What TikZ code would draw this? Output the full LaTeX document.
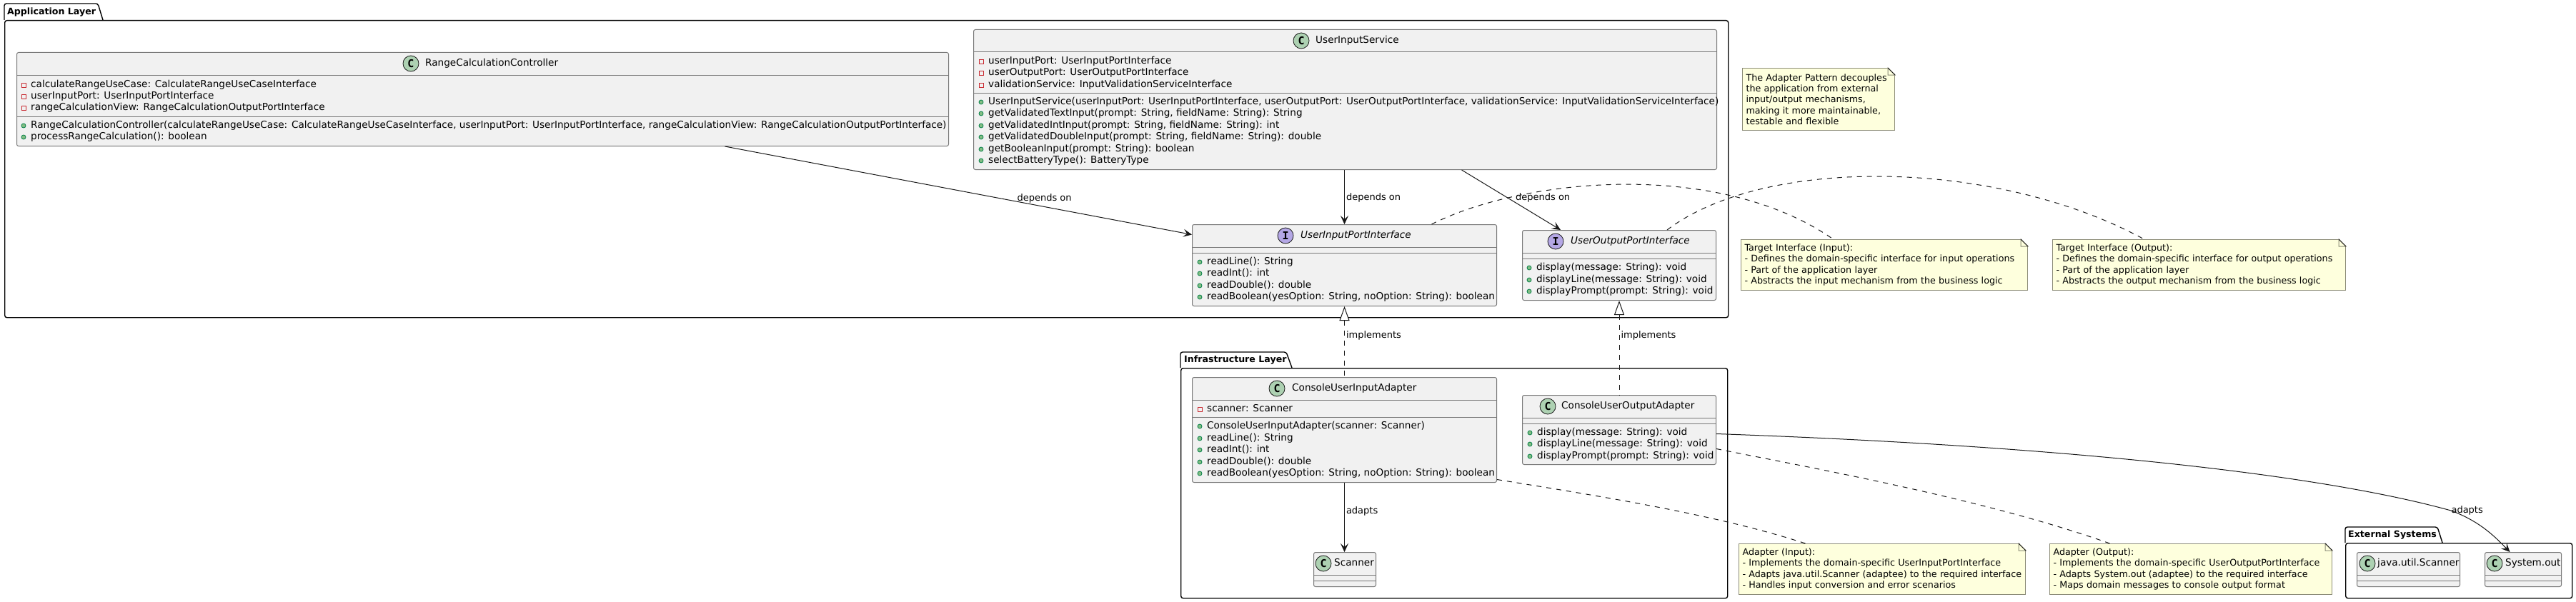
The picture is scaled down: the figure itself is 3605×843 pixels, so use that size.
\documentclass[tikz,border=0pt]{standalone}
\usepackage{fontspec}
\setmainfont{DejaVu Sans}
\setmonofont{DejaVu Sans Mono}
\usepackage{xcolor}
\usetikzlibrary{arrows.meta}
\definecolor{umlline}{RGB}{24, 24, 24}
\definecolor{umlborder}{RGB}{120, 120, 120}
\definecolor{umlfill}{RGB}{241, 241, 241}
\definecolor{umlgreen}{RGB}{173, 209, 178}
\definecolor{umlpurple}{RGB}{180, 167, 229}
\definecolor{notefill}{RGB}{254, 255, 221}
\definecolor{noteborder}{RGB}{140, 140, 120}
\definecolor{privred}{RGB}{200, 41, 48}
\definecolor{pubgreen}{RGB}{132, 190, 132}
\definecolor{pubedge}{RGB}{3, 128, 72}

\tikzset{
  pkgbox/.style={draw=black, line width=1.4pt, rounded corners=3pt, anchor=north west, inner sep=0pt},
  pkgtab/.style={draw=black, line width=1.4pt, rounded corners=3pt},
  pkgtitle/.style={anchor=west, inner sep=0pt, text height=10.5pt, text depth=3pt, font=\fontsize{12.6}{16}\selectfont\bfseries},
  classbox/.style={draw=umlborder, fill=umlfill, line width=1pt, rounded corners=2.5pt, anchor=north west, inner sep=0pt},
  classsep/.style={draw=umlborder, line width=1pt},
  classmark/.style={circle, draw=umlline, line width=0.8pt, minimum size=22pt, inner sep=0pt, font=\fontsize{15}{16}\selectfont\ttfamily\bfseries},
  classtitle/.style={anchor=west, inner sep=0pt, text height=10.5pt, text depth=3pt, font=\fontsize{13.6}{16}\selectfont},
  member/.style={anchor=west, inner sep=0pt, text height=10.5pt, text depth=3pt, font=\fontsize{13.6}{16}\selectfont},
  privicon/.style={rectangle, draw=privred, line width=0.8pt, minimum size=6pt, inner sep=0pt},
  pubicon/.style={circle, draw=pubedge, fill=pubgreen, line width=0.8pt, minimum size=6pt, inner sep=0pt},
  notebox/.style={draw=noteborder, fill=notefill, line width=1pt, anchor=north west, align=left, inner xsep=5pt, inner ysep=0pt, font=\fontsize{12.7}{15.3}\selectfont},
  edgelabel/.style={anchor=west, inner sep=0pt, text height=9.5pt, text depth=3pt, font=\fontsize{13}{15}\selectfont},
  dependedge/.style={draw=umlline, line width=1pt, -{Stealth[length=12pt, width=11pt, inset=5pt]}},
  implementedge/.style={draw=umlline, line width=1pt, dash pattern=on 7pt off 7pt, {Triangle[open, length=20pt, width=14pt, fill=white]}-},
  noteedge/.style={draw=umlline, line width=1pt, dash pattern=on 7pt off 7pt},
}

% member rows of a class: name prefix, icon x, icon style, {y/text, ...}
\newcommand{\memberrows}[4]{%
  \foreach \y/\txt [count=\i] in {#4} {
    \node[#3] (#1icon\i) at (#2,\y) {};
    \node[member] (#1text\i) at ({#2+10},\y) {\txt};
  }%
}

\begin{document}
\begin{tikzpicture}[x=1pt, y=-1pt]
\useasboundingbox (0,0) rectangle (3605,843);

% Packages
\node[pkgbox, minimum width=2412pt, minimum height=416pt] (app) at (6,28) {};
\node[pkgbox, minimum width=765pt, minimum height=322pt] (infra) at (1652,515) {};
\node[pkgbox, minimum width=317pt, minimum height=77pt] (ext) at (3282,760) {};
\draw[pkgtab] (app.north west) -- ++(0,-23) -- ++(131,0) -- ++(7,23);
\draw[pkgtab] (infra.north west) -- ++(0,-22) -- ++(148,0) -- ++(8,22);
\draw[pkgtab] (ext.north west) -- ++(0,-22) -- ++(129,0) -- ++(7,22);
\node[pkgtitle] (apptitle) at (10,17) {Application Layer};
\node[pkgtitle] (infratitle) at (1657,504) {Infrastructure Layer};
\node[pkgtitle] (exttitle) at (3286,749) {External Systems};

% Classes
\node[classbox, minimum width=1304pt, minimum height=131pt] (ctrl) at (23,73) {};
\node[classbox, minimum width=1040pt, minimum height=196pt] (svc) at (1362,41) {};
\node[classbox, minimum width=426pt, minimum height=114pt] (uip) at (1668,314) {};
\node[classbox, minimum width=271pt, minimum height=98pt] (uop) at (2130,322) {};
\node[classbox, minimum width=426pt, minimum height=147pt] (uia) at (1668,528) {};
\node[classbox, minimum width=271pt, minimum height=97pt] (uoa) at (2130,553) {};
\node[classbox, minimum width=87pt, minimum height=48pt] (scan) at (1838,773) {};
\node[classbox, minimum width=144pt, minimum height=48pt] (jscan) at (3298,773) {};
\node[classbox, minimum width=107pt, minimum height=48pt] (sysout) at (3477,773) {};

% Compartment lines
\foreach \cls/\a/\b in {ctrl/32/90, svc/32/89, uip/32/40, uop/32/40, uia/32/56, uoa/32/40, scan/32/40, jscan/32/40, sysout/32/40} {
  \draw[classsep] ([yshift=-\a pt]\cls.north west) -- ([yshift=-\a pt]\cls.north east);
  \draw[classsep] ([yshift=-\b pt]\cls.north west) -- ([yshift=-\b pt]\cls.north east);
}

% Class headers
\node[classmark, fill=umlgreen] (ctrlmark) at (575,89) {C};
\node[classtitle] (ctrltitle) at (595,89) {RangeCalculationController};
\node[classmark, fill=umlgreen] (svcmark) at (1821,57) {C};
\node[classtitle] (svctitle) at (1841,57) {UserInputService};
\node[classmark, fill=umlpurple] (uipmark) at (1799,330) {I};
\node[classtitle, font=\fontsize{13.6}{16}\selectfont\itshape] (uiptitle) at (1820,330) {UserInputPortInterface};
\node[classmark, fill=umlpurple] (uopmark) at (2177,338) {I};
\node[classtitle, font=\fontsize{13.6}{16}\selectfont\itshape] (uoptitle) at (2198,338) {UserOutputPortInterface};
\node[classmark, fill=umlgreen] (uiamark) at (1787,544) {C};
\node[classtitle] (uiatitle) at (1808,544) {ConsoleUserInputAdapter};
\node[classmark, fill=umlgreen] (uoamark) at (2166,569) {C};
\node[classtitle] (uoatitle) at (2185,569) {ConsoleUserOutputAdapter};
\node[classmark, fill=umlgreen] (scanmark) at (1852,789) {C};
\node[classtitle] (scantitle) at (1867,789) {Scanner};
\node[classmark, fill=umlgreen] (jscanmark) at (3313,789) {C};
\node[classtitle] (jscantitle) at (3327,789) {java.util.Scanner};
\node[classmark, fill=umlgreen] (sysoutmark) at (3491,789) {C};
\node[classtitle] (sysouttitle) at (3506,789) {System.out};

% Fields and methods
\memberrows{ctrlf}{33}{privicon}{119/{calculateRangeUseCase: CalculateRangeUseCaseInterface}, 135/{userInputPort: UserInputPortInterface}, 151/{rangeCalculationView: RangeCalculationOutputPortInterface}}
\memberrows{ctrlm}{33}{pubicon}{176/{RangeCalculationController(calculateRangeUseCase: CalculateRangeUseCaseInterface, userInputPort: UserInputPortInterface, rangeCalculationView: RangeCalculationOutputPortInterface)}, 192/{processRangeCalculation(): boolean}}
\memberrows{svcf}{1373}{privicon}{86/{userInputPort: UserInputPortInterface}, 102/{userOutputPort: UserOutputPortInterface}, 119/{validationService: InputValidationServiceInterface}}
\memberrows{svcm}{1373}{pubicon}{143/{UserInputService(userInputPort: UserInputPortInterface, userOutputPort: UserOutputPortInterface, validationService: InputValidationServiceInterface)}, 159/{getValidatedTextInput(prompt: String, fieldName: String): String}, 176/{getValidatedIntInput(prompt: String, fieldName: String): int}, 192/{getValidatedDoubleInput(prompt: String, fieldName: String): double}, 209/{getBooleanInput(prompt: String): boolean}, 225/{selectBatteryType(): BatteryType}}
\memberrows{uipm}{1679}{pubicon}{367/{readLine(): String}, 383/{readInt(): int}, 400/{readDouble(): double}, 416/{readBoolean(yesOption: String, noOption: String): boolean}}
\memberrows{uopm}{2140}{pubicon}{375/{display(message: String): void}, 392/{displayLine(message: String): void}, 408/{displayPrompt(prompt: String): void}}
\memberrows{uiaf}{1679}{privicon}{573/{scanner: Scanner}}
\memberrows{uiam}{1679}{pubicon}{597/{ConsoleUserInputAdapter(scanner: Scanner)}, 614/{readLine(): String}, 630/{readInt(): int}, 647/{readDouble(): double}, 663/{readBoolean(yesOption: String, noOption: String): boolean}}
\memberrows{uoam}{2141}{pubicon}{606/{display(message: String): void}, 622/{displayLine(message: String): void}, 639/{displayPrompt(prompt: String): void}}

% Notes
\node[notebox, minimum width=213pt, minimum height=87pt, text width=203pt] (notepattern) at (2438,95) {The Adapter Pattern decouples\\the application from external\\input/output mechanisms,\\making it more maintainable,\\testable and flexible};
\node[notebox, minimum width=401pt, minimum height=71pt, text width=391pt] (notetargetin) at (2436,335) {Target Interface (Input):\\- Defines the domain-specific interface for input operations\\- Part of the application layer\\- Abstracts the input mechanism from the business logic};
\node[notebox, minimum width=410pt, minimum height=71pt, text width=400pt] (notetargetout) at (2872,335) {Target Interface (Output):\\- Defines the domain-specific interface for output operations\\- Part of the application layer\\- Abstracts the output mechanism from the business logic};
\node[notebox, minimum width=401pt, minimum height=71pt, text width=391pt] (noteadaptin) at (2433,761) {Adapter (Input):\\- Implements the domain-specific UserInputPortInterface\\- Adapts java.util.Scanner (adaptee) to the required interface\\- Handles input conversion and error scenarios};
\node[notebox, minimum width=395pt, minimum height=71pt, text width=385pt] (noteadaptout) at (2868,761) {Adapter (Output):\\- Implements the domain-specific UserOutputPortInterface\\- Adapts System.out (adaptee) to the required interface\\- Maps domain messages to console output format};

% Folded note corners
\foreach \n in {notepattern, notetargetin, notetargetout, noteadaptin, noteadaptout} {
  \fill[white] ([xshift=-10pt, yshift=1pt]\n.north east) -- ([xshift=1pt, yshift=1pt]\n.north east) -- ([xshift=1pt, yshift=-10pt]\n.north east) -- cycle;
  \draw[draw=noteborder, fill=notefill, line width=1pt] ([xshift=-10pt]\n.north east) -- ([yshift=-10pt]\n.north east) -- ([xshift=-10pt, yshift=-10pt]\n.north east) -- cycle;
  \draw[draw=umlline, line width=0.8pt] ([xshift=-10pt]\n.north east) -- ([yshift=-10pt]\n.north east);
}

% Dependencies
\draw[dependedge] ([xshift=339pt]ctrl.south) -- ([yshift=43pt]uip.west) node[edgelabel, pos=0.59, xshift=23pt] (lbldepa) {depends on};
\draw[dependedge] (svc.south -| uip.north) -- (uip.north) node[edgelabel, pos=0.52, xshift=2pt] (lbldepb) {depends on};
\draw[dependedge] ([xshift=163pt]svc.south) -- ([xshift=-82pt]uop.north) node[edgelabel, pos=0.47, xshift=10pt] (lbldepc) {depends on};

% Realisations
\draw[implementedge] (uip.south) -- (uia.north) node[edgelabel, pos=0.42, xshift=2pt] (lblimpa) {implements};
\draw[implementedge] (uop.south) -- (uoa.north) node[edgelabel, pos=0.376, xshift=2pt] (lblimpb) {implements};

% Adaptees
\draw[dependedge] (uia.south) -- (scan.north -| uia.south) node[edgelabel, pos=0.41, xshift=2pt] (lbladapta) {adapts};
\draw[dependedge] ([yshift=-5.5pt]uoa.east) .. controls (2900,625) and (3250,665) .. (3430,715) node[edgelabel] (lbladaptb) {adapts} .. controls (3470,730) and (3490,750) .. ([xshift=-18.5pt]sysout.north);

% Note links
\draw[noteedge] ([xshift=122pt]uip.north) .. controls (2130,250) and (2403,222) .. ([xshift=-71.5pt]notetargetin.north);
\draw[noteedge] ([xshift=67pt]uop.north) .. controls (2470,218) and (2793,222) .. ([xshift=-77pt]notetargetout.north);
\draw[noteedge] ([yshift=-69.5pt]uia.east) .. controls (2240,695) and (2400,720) .. ([xshift=-107.5pt]noteadaptin.north);
\draw[noteedge] ([yshift=-26.5pt]uoa.east) .. controls (2560,660) and (2780,700) .. ([xshift=-113.5pt]noteadaptout.north);
\end{tikzpicture}
\end{document}
